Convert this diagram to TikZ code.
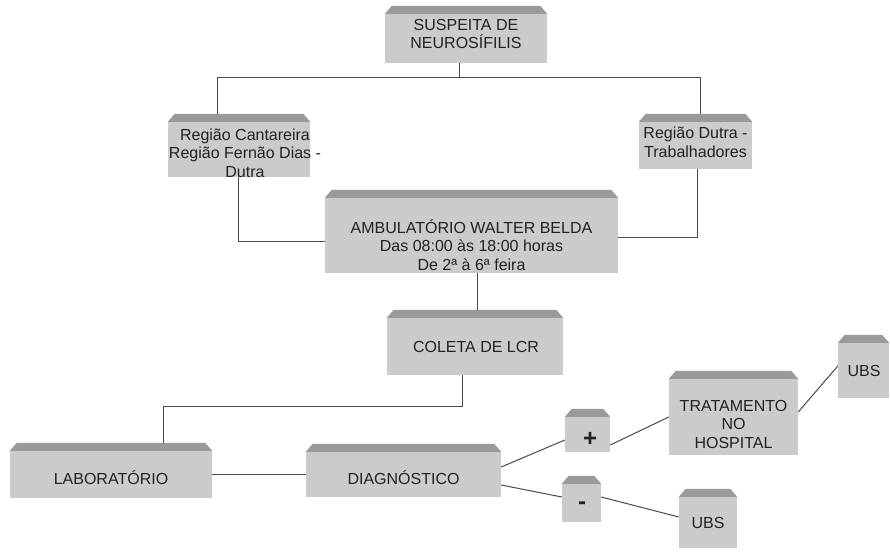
\documentclass[tikz,border=0pt]{standalone}
\usepackage{fontspec}
\setmainfont{Liberation Sans}
\definecolor{bodyc}{HTML}{CBCBCB}
\definecolor{bevelc}{HTML}{9A9A9A}
\definecolor{linec}{HTML}{4A4A4A}
\definecolor{txtc}{HTML}{222222}
\tikzset{
  box/.style={rectangle, fill=bodyc, inner sep=0pt, draw=none},
  lbl/.style={align=center, text=txtc, font=\fontsize{16}{18.5}\selectfont, inner sep=0pt},
  sign/.style={text=txtc, font=\bfseries\fontsize{24}{24}\selectfont, inner sep=0pt},
  conn/.style={draw=linec, line width=1pt},
}
\newcommand\bevelbox[1]{\fill[bevelc] (#1.north west) -- ([xshift=7pt,yshift=8pt]#1.north west) -- ([xshift=-7pt,yshift=8pt]#1.north east) -- (#1.north east) -- cycle;}
\begin{document}
\begin{tikzpicture}[x=1pt,y=1pt]
\fill[white] (0,0) rectangle (890,-553);
\useasboundingbox (0,0) rectangle (890,-553);

% boxes
\node[box, minimum width=162pt, minimum height=49pt] (susp) at (466,-38.5) {};
\node[box, minimum width=142pt, minimum height=55pt] (cant) at (239,-149.5) {};
\node[box, minimum width=113pt, minimum height=47pt] (dutra) at (695.5,-145.5) {};
\node[box, minimum width=293pt, minimum height=75pt] (amb) at (471.5,-235.5) {};
\node[box, minimum width=176pt, minimum height=57pt] (coleta) at (475,-346.5) {};
\node[box, minimum width=202pt, minimum height=47pt] (lab) at (111,-474.5) {};
\node[box, minimum width=195pt, minimum height=45pt] (diag) at (403.5,-474.5) {};
\node[box, minimum width=45pt, minimum height=35pt] (plus) at (587.5,-434.5) {};
\node[box, minimum width=39pt, minimum height=38pt] (minus) at (581.5,-503) {};
\node[box, minimum width=129pt, minimum height=76pt] (trat) at (733.5,-417) {};
\node[box, minimum width=51pt, minimum height=55pt] (ubsa) at (863.5,-370.5) {};
\node[box, minimum width=58pt, minimum height=51pt] (ubsb) at (708,-522.5) {};

\foreach \n in {susp,cant,dutra,amb,coleta,lab,diag,plus,minus,trat,ubsa,ubsb} {\bevelbox{\n}}

% texts
\node[lbl] (susp-t) at (466,-34) {SUSPEITA DE\\NEUROSÍFILIS};
\node[lbl] (cant-t) at (245,-153) {Região Cantareira\\Região Fernão Dias -\\Dutra};
\node[lbl] (dutra-t) at (695.5,-142.5) {Região Dutra -\\Trabalhadores};
\node[lbl] (amb-t) at (471.5,-245) {AMBULATÓRIO WALTER BELDA\\Das 08:00 às 18:00 horas\\De 2ª à 6ª feira};
\node[lbl] (coleta-t) at (476,-346.5) {COLETA DE LCR};
\node[lbl] (lab-t) at (111,-478) {LABORATÓRIO};
\node[lbl] (diag-t) at (403.5,-478) {DIAGNÓSTICO};
\node[sign] (plus-t) at (590,-439) {+};
\node[sign] (minus-t) at (582,-506) {-};
\node[lbl] (trat-t) at (733.5,-424) {TRATAMENTO\\NO\\HOSPITAL};
\node[lbl] (ubsa-t) at (864,-371) {UBS};
\node[lbl] (ubsb-t) at (708,-523) {UBS};

% connectors
\draw[conn] ([xshift=-7pt]susp.south) -- ++(0,-14) coordinate (hub);
\draw[conn] (hub) -| ([xshift=50pt,yshift=8pt]cant.north west);
\draw[conn] (hub) -| ([xshift=62pt,yshift=8pt]dutra.north west);
\draw[conn] ([xshift=71pt]cant.south west) |- ([yshift=-5.5pt]amb.west);
\draw[conn] ([xshift=59pt]dutra.south west) |- ([yshift=-1.5pt]amb.east);
\draw[conn] ([xshift=5.5pt]amb.south) -- ([xshift=2pt,yshift=8pt]coleta.north);
\draw[conn] ([xshift=-13pt]coleta.south) -- ++(0,-31) -| ([xshift=154pt,yshift=8pt]lab.north west);
\draw[conn] (lab.east) -- (diag.west);
\draw[conn] ([yshift=7.5pt]diag.east) -- ([yshift=-5.5pt]plus.west);
\draw[conn] ([yshift=-10.5pt]plus.east) -- (trat.west);
\draw[conn] ([yshift=-10.5pt]diag.east) -- ([yshift=6pt]minus.west);
\draw[conn] ([yshift=6pt]minus.east) -- ([yshift=5.5pt]ubsb.west);
\draw[conn] ([yshift=5pt]trat.east) -- ([yshift=4.5pt]ubsa.west);
\end{tikzpicture}
\end{document}
